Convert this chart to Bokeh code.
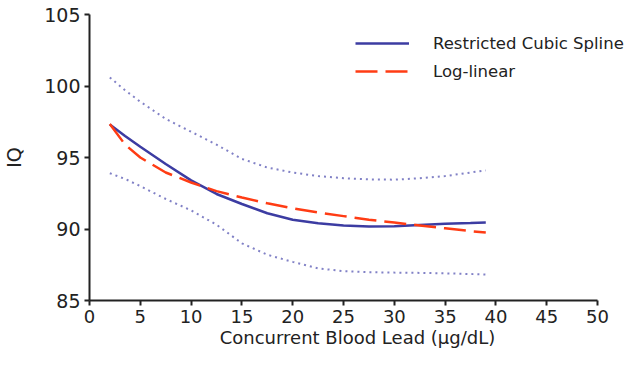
from bokeh.plotting import figure
from bokeh.models import Legend, LegendItem, FixedTicker, Range1d
from bokeh.embed import file_html
from bokeh.resources import INLINE

# Concurrent blood lead (ug/dL)
lead = [2, 3.5, 5, 7.5, 10, 12.5, 15, 17.5, 20, 22.5, 25, 27.5, 30, 32.5, 35, 37.5, 39]
# Restricted cubic spline estimate
spline = [97.3, 96.5, 95.75, 94.55, 93.4, 92.45, 91.75, 91.1, 90.65, 90.4, 90.25, 90.17,
          90.2, 90.28, 90.36, 90.42, 90.46]
# Log-linear estimate
loglin = [97.35, 95.9, 95.0, 93.95, 93.25, 92.65, 92.2, 91.8, 91.45, 91.15, 90.9, 90.65,
          90.45, 90.25, 90.05, 89.85, 89.75]
# Confidence band of the spline
upper = [100.6, 99.7, 98.9, 97.7, 96.8, 95.9, 94.9, 94.3, 93.95, 93.7, 93.55, 93.47,
         93.45, 93.55, 93.7, 93.95, 94.1]
lower = [93.9, 93.5, 93.0, 92.1, 91.3, 90.3, 89.0, 88.2, 87.7, 87.25, 87.05, 86.98,
         86.95, 86.93, 86.9, 86.85, 86.82]

x_ticks = [0, 5, 10, 15, 20, 25, 30, 35, 40, 45, 50]
y_ticks = [85, 90, 95, 100, 105]

FONT = "DejaVu Sans"

# frame spans the page width so the legend text is not clipped; the x axis stops at 50
p = figure(width=625, height=350, output_backend="svg", toolbar_location=None,
           x_range=Range1d(0, 52.75), y_range=Range1d(85, 105),
           min_border_left=87, min_border_right=0, min_border_top=14, min_border_bottom=49)
p.outline_line_color = None
p.xgrid.visible = False
p.ygrid.visible = False

for ax in (p.xaxis, p.yaxis):
    ax.axis_line_width = 2
    ax.axis_line_color = "#222222"
    ax.major_tick_line_width = 2
    ax.major_tick_line_color = "#222222"
    ax.major_tick_out = 5
    ax.major_tick_in = 0
    ax.minor_tick_line_color = None
    ax.major_label_text_font = FONT
    ax.major_label_text_font_size = "19px"
    ax.major_label_text_color = "#222222"
    ax.axis_label_text_font = FONT
    ax.axis_label_text_font_size = "19px"
    ax.axis_label_text_font_style = "normal"
    ax.axis_label_text_color = "#222222"

p.xaxis.bounds = (0, 50)
p.xaxis.ticker = FixedTicker(ticks=x_ticks)
p.yaxis.ticker = FixedTicker(ticks=y_ticks)
p.xaxis.major_label_text_font_size = "18px"
p.xaxis.major_label_standoff = 4
p.yaxis.major_label_standoff = 4
p.xaxis.axis_label = "Concurrent Blood Lead (µg/dL)"
p.yaxis.axis_label = "IQ"
p.xaxis.axis_label_standoff = 1
p.xaxis.axis_label_text_font_size = "18px"
p.yaxis.axis_label_standoff = 16

band_color = "#6262b8"
p.line(lead, upper, line_color=band_color, line_width=2, line_dash="2 4", line_alpha=0.8)
p.line(lead, lower, line_color=band_color, line_width=2, line_dash="2 4", line_alpha=0.8)
r_spline = p.line(lead, spline, line_color="#3c3ca2", line_width=2.5)
r_log = p.line(lead, loglin, line_color="#ff3c14", line_width=2.5, line_dash="22 8")

legend = Legend(items=[LegendItem(label="Restricted Cubic Spline", renderers=[r_spline]),
                       LegendItem(label="Log-linear", renderers=[r_log])],
                location=(266, 215), padding=0, margin=0, spacing=0,
                glyph_width=54, glyph_height=28, label_height=28, label_standoff=24,
                label_text_font=FONT, label_text_font_size="16.5px",
                label_text_color="#222222",
                border_line_color=None, background_fill_alpha=0)
p.add_layout(legend, "center")

open("out.html", "w").write(file_html(p, INLINE))
